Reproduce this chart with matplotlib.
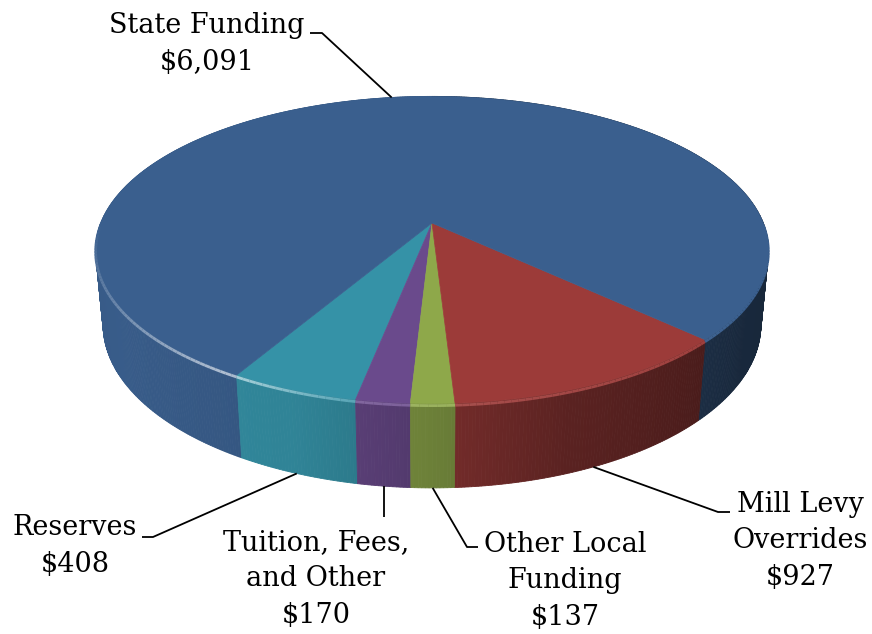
import numpy as np
import matplotlib.pyplot as plt
from matplotlib.patches import Polygon
from matplotlib.collections import LineCollection
from matplotlib.colors import to_rgb

# slices, counter-clockwise from the front-left
labels = ['Reserves\n$408', 'Tuition, Fees,\nand Other\n$170', 'Other Local\nFunding\n$137',
          'Mill Levy\nOverrides\n$927', 'State Funding\n$6,091']
values = [408, 170, 137, 927, 6091]
top_colors = ['#3592a7', '#6a4a8c', '#8ea84a', '#9c3b39', '#3a5f8e']
start_deg = -30.0

# label boxes (centre x, centre y) and leader elbow points, in pixels
label_pos = [(75, 546), (316, 579), (565, 581), (800, 541), (207, 44)]
elbows = [[(142, 537), (153, 537)],
          [None, (384, 517)],
          [(478, 547), (467, 547)],
          [(730, 512), (718, 512)],
          [(310, 33), (322, 33)]]
anchor_on_top = [False, False, False, False, True]

# simple perspective camera for the disc
tilt = np.radians(26.7)
cam_d = 5.086
focal = 1685.0
thick = 0.255
cx, cy = 432.0, 223.0


def project(t, y):
    X = np.sin(t)
    Z = np.cos(t)
    yc = y * np.cos(tilt) - Z * np.sin(tilt)
    d = cam_d - (Z * np.cos(tilt) + y * np.sin(tilt))
    return cx + focal * X / d, cy - focal * yc / d


def side_light(t):
    deg = np.degrees(np.arctan2(np.sin(t), np.cos(t)))
    return np.interp(deg, [-180, -60, -20, 0, 20, 60, 180],
                     [0.85, 0.97, 0.9, 0.76, 0.58, 0.42, 0.4])


total = sum(values)
spans = np.array(values) / total * 2 * np.pi
starts = np.radians(start_deg) + np.concatenate([[0], np.cumsum(spans)[:-1]])

fig = plt.figure(figsize=(8.72, 6.34), dpi=100)
ax = fig.add_axes([0, 0, 1, 1])
ax.set_xlim(0, 872)
ax.set_ylim(634, 0)
ax.axis('off')

# outer wall, back to front
strips = []
for t0, sp, col in zip(starts, spans, top_colors):
    n = max(3, int(sp / np.radians(0.5)))
    ts = np.linspace(t0, t0 + sp, n + 1)
    base = np.array(to_rgb(col))
    for a, b in zip(ts[:-1], ts[1:]):
        xa, ya = project(a, 0)
        xb, yb = project(b, 0)
        xa2, ya2 = project(a, -thick)
        xb2, yb2 = project(b, -thick)
        m = 0.5 * (a + b)
        c = np.clip(base * side_light(m), 0, 1)
        strips.append((np.cos(m), [(xa, ya), (xb, yb), (xb2, yb2), (xa2, ya2)], c))
strips.sort(key=lambda s: s[0])
for _, pts, c in strips:
    ax.add_patch(Polygon(pts, closed=True, facecolor=c, edgecolor=c, lw=0.6, zorder=1))

# top face
for t0, sp, col in zip(starts, spans, top_colors):
    ts = np.linspace(t0, t0 + sp, max(4, int(sp / np.radians(0.5))))
    xs, ys = project(ts, 0)
    pts = [(cx, cy)] + list(zip(xs, ys))
    ax.add_patch(Polygon(pts, closed=True, facecolor=col, edgecolor=col, lw=0.5, zorder=2))

# bevel highlight along the front rim
segs, seg_cols = [], []
for t0, sp, col in zip(starts, spans, top_colors):
    ts = np.linspace(t0, t0 + sp, max(3, int(sp / np.radians(1))))
    for a, b in zip(ts[:-1], ts[1:]):
        m = 0.5 * (a + b)
        if np.cos(m) < 0.0:
            continue
        deg = np.degrees(np.arctan2(np.sin(m), np.cos(m)))
        glow = np.interp(deg, [-90, -60, -32, -10, 10, 60, 90], [0.0, 0.25, 0.6, 0.15, 0.08, 0.0, 0.0])
        xa, ya = project(a, -0.006)
        xb, yb = project(b, -0.006)
        segs.append([(xa, ya), (xb, yb)])
        c = np.array(to_rgb(col)) * (1 - glow) + glow
        seg_cols.append(np.clip(c, 0, 1))
ax.add_collection(LineCollection(segs, colors=seg_cols, linewidths=2.0, zorder=3))

# labels and leader lines
for i, (lab, (lx, ly)) in enumerate(zip(labels, label_pos)):
    ax.text(lx, ly, lab, ha='center', va='center', multialignment='center',
            fontsize=19.5, family='DejaVu Serif', linespacing=1.45, zorder=5)
    mid = starts[i] + spans[i] / 2
    px, py = project(mid, 0 if anchor_on_top[i] else -thick)
    pts = [p for p in elbows[i] if p is not None]
    if elbows[i][0] is None:
        pts = [(px, pts[0][1])]
    pts = pts + [(px, py)]
    xs, ys = zip(*pts)
    ax.plot(xs, ys, color='black', lw=1.3, zorder=4, solid_capstyle='butt')

fig.savefig('out.png', dpi=100, facecolor='white')
